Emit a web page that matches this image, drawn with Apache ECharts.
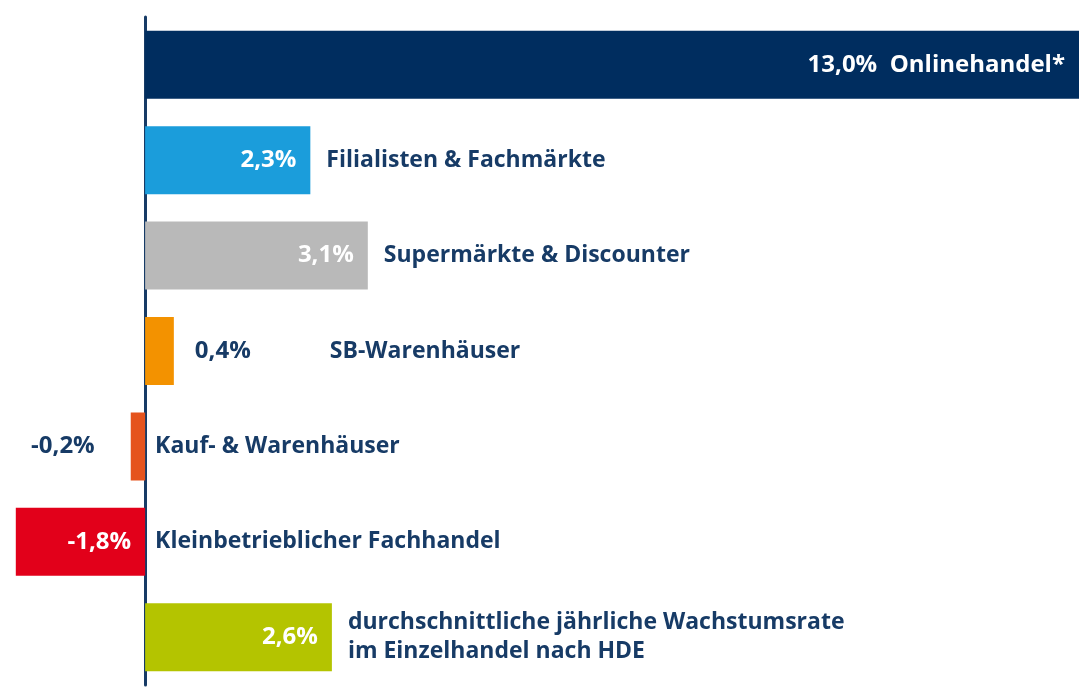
<!DOCTYPE html>
<html>
<head>
<meta charset="utf-8">
<script src="https://cdn.jsdelivr.net/npm/echarts@6/dist/echarts.min.js"></script>
<style>
html, body { margin: 0; padding: 0; background: #fff; }
#chart { width: 1079px; height: 693px; }
</style>
</head>
<body>
<div id="chart"></div>
<script>
// Umsatzwachstum nach Vertriebsformen
var categories = [
  'Onlinehandel*',
  'Filialisten & Fachmärkte',
  'Supermärkte & Discounter',
  'SB-Warenhäuser',
  'Kauf- & Warenhäuser',
  'Kleinbetrieblicher Fachhandel',
  'durchschnittliche jährliche Wachstumsrate\nim Einzelhandel nach HDE'
];
var values = [13.0, 2.3, 3.1, 0.4, -0.2, -1.8, 2.6];
var colors = ['#002d5f', '#1b9ddb', '#b9b9b9', '#f39200', '#e5531d', '#e2001a', '#b4c400'];

var navy = '#173b66';
var font = 'Open Sans';

function fmt(v) {
  return v.toFixed(1).replace('.', ',') + '%';
}

var barData = values.map(function (v, i) {
  var item = { value: v, itemStyle: { color: colors[i] } };
  // kleine Balken: Wert ausserhalb
  if (i === 3) item.label = { position: 'right', color: navy, distance: 21 };
  if (i === 4) item.label = { position: 'left', color: navy, distance: 36 };
  return item;
});

var nameData = values.map(function (v, i) {
  var item = { value: v };
  if (i === 0) item.label = { show: false };
  if (i === 3) item.label = { distance: 156 };
  if (i === 4 || i === 5) item.label = { distance: 10 };
  return item;
});

var chart = echarts.init(document.getElementById('chart'));

chart.setOption({
  backgroundColor: '#fff',
  animation: false,
  grid: { left: 0, right: 0, top: 17, bottom: 8, containLabel: false },
  xAxis: {
    type: 'value',
    min: -2.02,
    max: 13,
    show: false
  },
  yAxis: {
    type: 'category',
    data: categories,
    inverse: true,
    axisLine: { show: true, onZero: true, lineStyle: { color: navy, width: 3 } },
    axisTick: { show: false },
    axisLabel: { show: false },
    splitLine: { show: false }
  },
  series: [
    {
      name: 'Wachstum',
      type: 'bar',
      barWidth: 68,
      z: 2,
      data: barData,
      label: {
        show: true,
        position: 'insideRight',
        distance: 14,
        color: '#fff',
        fontFamily: font,
        fontWeight: 'bold',
        fontSize: 24,
        formatter: function (p) {
          return p.dataIndex === 0 ? fmt(p.value) + '  ' + p.name : fmt(p.value);
        }
      }
    },
    {
      name: 'Vertriebsform',
      type: 'bar',
      barWidth: 68,
      barGap: '-100%',
      silent: true,
      z: 3,
      itemStyle: { color: 'transparent' },
      data: nameData,
      label: {
        show: true,
        position: 'right',
        distance: 16,
        color: navy,
        fontFamily: font,
        fontWeight: 'bold',
        fontSize: 23,
        lineHeight: 29,
        formatter: '{b}'
      }
    }
  ]
});
</script>
</body>
</html>
